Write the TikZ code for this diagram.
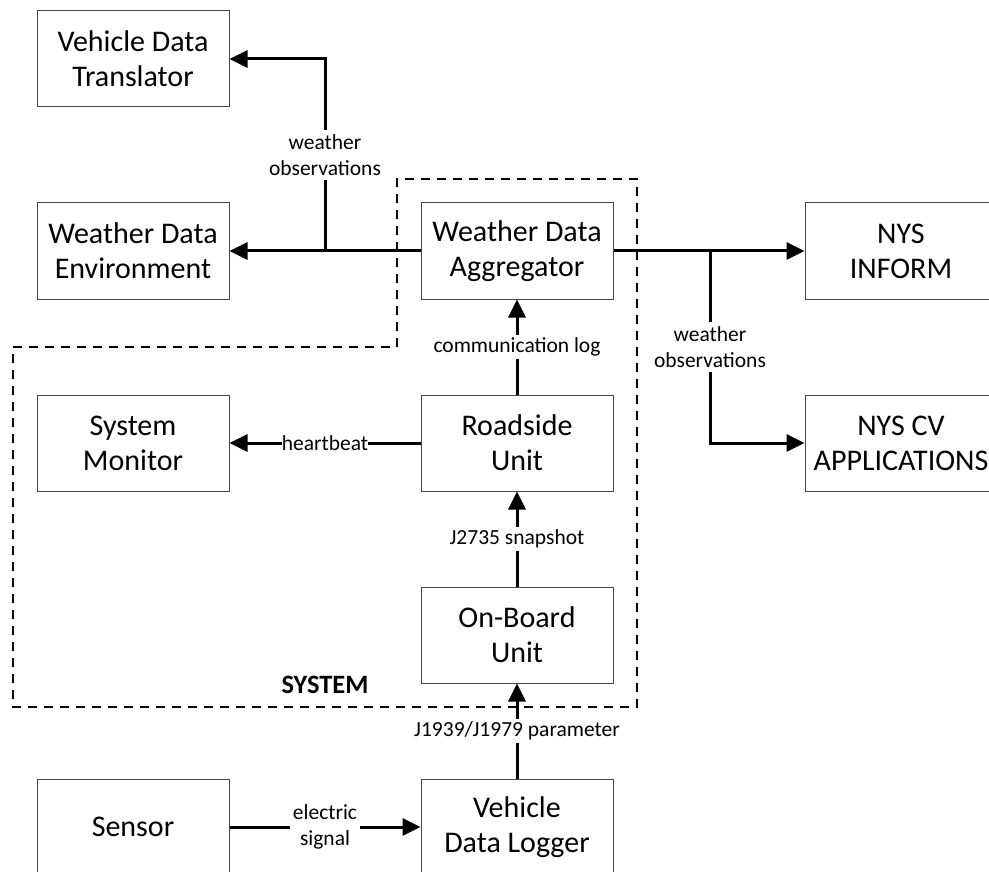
\documentclass[tikz,border=0pt]{standalone}
\usepackage{fontspec}
\setmainfont{Carlito}
\usetikzlibrary{arrows.meta}
\begin{document}
\begin{tikzpicture}[x=1pt,y=-1pt,
  box/.style={draw=black!72, line width=1pt, minimum width=192pt, minimum height=96pt,
    inner sep=0pt, align=center, font=\fontsize{30}{35}\selectfont},
  conn/.style={line width=3pt, -{Triangle[length=18pt,width=17pt]}},
  lbl/.style={fill=white, inner sep=2.5pt, align=center, font=\fontsize{21.5}{26}\selectfont},
  sysline/.style={line width=2.6pt, dash pattern=on 9pt off 7pt}]
\useasboundingbox (0,0) rectangle (989,872);
\clip (0,0) rectangle (989,872);
% system boundary
\draw[sysline] (397,347) -- (397,179) -- (637,179) -- (637,707) -- (13,707) -- (13,347) -- cycle;
\node[font=\fontsize{26.5}{30}\selectfont\bfseries, anchor=base] (syslbl) at (325,693) {SYSTEM};
% boxes
\node[box] (vdt) at (133,59) {Vehicle Data\\Translator};
\node[box] (wde) at (133,251) {Weather Data\\Environment};
\node[box] (wda) at (517,251) {Weather Data\\Aggregator};
\node[box] (nysi) at (901,251) {NYS\\INFORM};
\node[box] (sm) at (133,443) {System\\Monitor};
\node[box] (rsu) at (517,443) {Roadside\\Unit};
\node[box] (nyscv) at (901,443) {NYS CV\\APPLICATIONS};
\node[box] (obu) at (517,635) {On-Board\\Unit};
\node[box] (sen) at (133,827) {Sensor};
\node[box] (vdl) at (517,827) {Vehicle\\Data Logger};
% branch points
\coordinate (bl) at (325,251);
\coordinate (br) at (710,251);
% connectors
\draw[conn] (wda.west) -- (wde.east);
\draw[conn] (bl) |- (vdt.east);
\draw[conn] (wda.east) -- (nysi.west);
\draw[conn] (br) |- (nyscv.west);
\draw[conn] (rsu.north) -- (wda.south);
\draw[conn] (rsu.west) -- (sm.east);
\draw[conn] (obu.north) -- (rsu.south);
\draw[conn] (vdl.north) -- (obu.south);
\draw[conn] (sen.east) -- (vdl.west);
% labels
\node[lbl, inner sep=4pt] (l1) at (325,155) {weather\\observations};
\node[lbl, inner sep=4pt] (l2) at (710,347) {weather\\observations};
\node[lbl] (l3) at (517,347) {communication log};
\node[lbl, inner sep=0pt] (l4) at (325,443) {heartbeat};
\node[lbl] (l5) at (517,539) {J2735 snapshot};
\node[lbl] (l6) at (517,731) {J1939/J1979 parameter};
\node[lbl, inner sep=3pt] (l7) at (325,827) {electric\\signal};
\end{tikzpicture}
\end{document}
